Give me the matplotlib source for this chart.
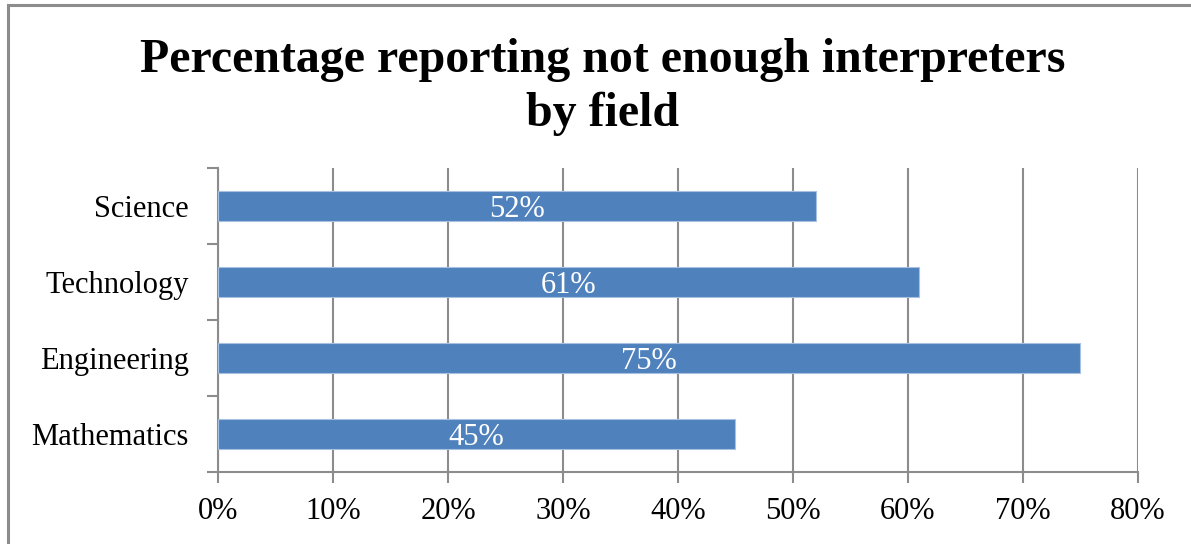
import matplotlib
matplotlib.use("Agg")
import matplotlib.pyplot as plt
from matplotlib.patches import Rectangle

fields = ["Mathematics", "Engineering", "Technology", "Science"]
pct = [45, 75, 61, 52]
xticks = [0, 10, 20, 30, 40, 50, 60, 70, 80]

plt.rcParams["font.family"] = ["Liberation Serif", "DejaVu Serif"]
BAR = "#4F81BD"
GRID = "#8C8C8C"

fig = plt.figure(figsize=(11.91, 5.44), dpi=100)
ax = fig.add_axes([0.183, 0.1324, 0.7725, 0.5588])

# outer chart frame (runs off the right and bottom edges)
fig.patches.append(Rectangle((8 / 1191, -0.05), 1.2, 1 - 5 / 544 + 0.05,
                             transform=fig.transFigure, fill=False,
                             edgecolor="#8C8C8C", lw=2.2))

y = range(len(fields))
bars = ax.barh(y, pct, height=0.4, color=BAR, edgecolor="#A9C1E0", lw=0.8,
               zorder=3)
for yi, v in zip(y, pct):
    ax.text(v / 2, yi, f"{v}%", ha="center", va="center_baseline",
            color="white", fontsize=22, zorder=4)

ax.set_xlim(0, 80)
ax.set_ylim(-0.5, len(fields) - 0.5)
ax.set_xticks(xticks)
ax.set_xticklabels([f"{t}%" for t in xticks], fontsize=22)
ax.set_yticks(list(y))
ax.set_yticklabels(fields, fontsize=22)
ax.set_yticks([i - 0.5 for i in range(len(fields) + 1)], minor=True)
ax.tick_params(axis="y", which="major", length=0, pad=21)
ax.tick_params(axis="y", which="minor", length=8, color=GRID, width=1.5)
ax.tick_params(axis="x", length=8, color=GRID, width=1.5, pad=10)
ax.grid(axis="x", color=GRID, lw=1.5, zorder=0)

for s in ["top", "right"]:
    ax.spines[s].set_visible(False)
for s in ["left", "bottom"]:
    ax.spines[s].set_color(GRID)
    ax.spines[s].set_linewidth(1.5)

fig.text(0.506, 0.84, "Percentage reporting not enough interpreters\nby field",
         ha="center", va="center", fontsize=34.5, fontweight="bold",
         linespacing=1.28)

fig.savefig("out.png", dpi=100)
